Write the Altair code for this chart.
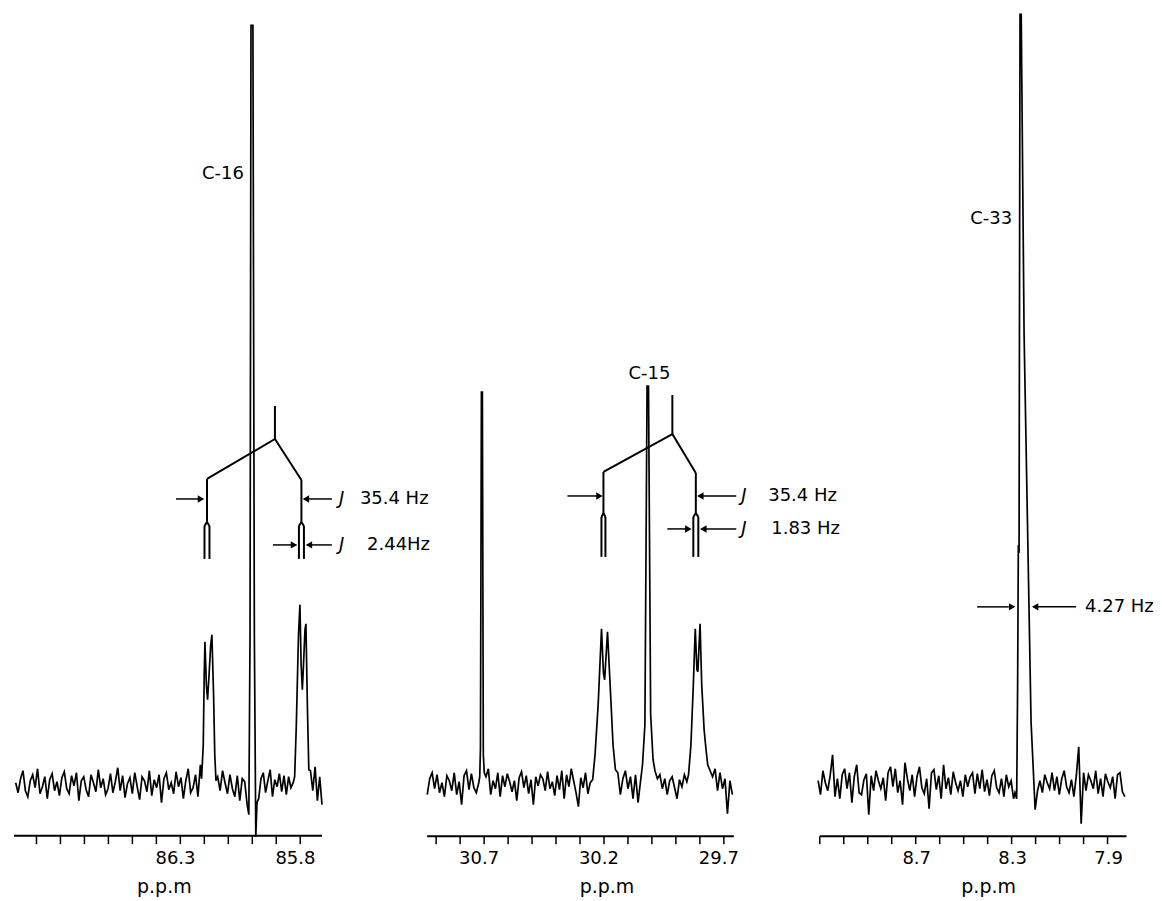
import altair as alt
import pandas as pd

FONT = "DejaVu Sans"

# ---------------- Panel 1 : C-16 (86.99 - 85.71 ppm) ----------------
p1_noise_a_range = (86.985, 86.215)
p1_noise_a = [2, -8, 6, 14, -6, -12, 4, 10, -3, 16, -9, -2, 8, -14, 5, 11, -6, 3, -11, 7,
              13, -4, -9, 9, -1, 12, -16, 4, 8, -5, -12, 10, 2, -7, 15, -3, 6, -10, -4, 11,
              -8, 3, 17, -6, 9, -13, 1, 7, -9, 12, -2, -15, 8, 4, -7, 14, -11, 5, -3, 10,
              -18, 6, 12, -5, 2, -9, 13, -2, 7, -14, 4, 16, -8, -3, 10, -12, 20]
p1_dbl_left_ppm = [86.210, 86.203, 86.199, 86.196, 86.190, 86.185, 86.180, 86.172, 86.167, 86.160, 86.155, 86.150]
p1_dbl_left_int = [6, 40, 110, 143, 100, 85, 105, 140, 150, 90, 30, 4]
p1_noise_b_range = (86.143, 86.020)
p1_noise_b = [8, -6, 14, 2, -9, 10, -4, -12, 9, -16, 6, 3, -20]
p1_c16_ppm = [86.013, 86.008, 86.004, 85.996, 85.990, 85.984, 85.979]
p1_c16_int = [-30, 150, 760, 760, 150, -52, -18]
p1_noise_c_range = (85.972, 85.828)
p1_noise_c = [-14, 6, 12, -8, 4, 15, -12, 5, -2, 11, -7, 9, -10, 8, -3, 2]
p1_dbl_right_ppm = [85.822, 85.815, 85.806, 85.800, 85.795, 85.790, 85.786, 85.779, 85.775, 85.769, 85.763]
p1_dbl_right_int = [8, 60, 150, 180, 120, 95, 115, 155, 161, 80, 15]
p1_noise_d_range = (85.756, 85.708)
p1_noise_d = [14, -6, 18, -16, 8, -20]

# ---------------- Panel 2 : C-15 (30.94 - 29.66 ppm) ----------------
p2_noise_a_range = (30.935, 30.720)
p2_noise_a = [-10, 6, 12, -4, 10, -8, 2, -12, 9, 4, -6, 12, -10, 3, -20, 9, 14, -5, 11, -3, -8, 2]
p2_single_ppm = [30.716, 30.713, 30.709, 30.705, 30.701, 30.697]
p2_single_int = [8, 36, 393, 393, 30, 12]
p2_noise_b_range = (30.690, 30.255)
p2_noise_b = [8, 16, -10, 4, -4, 12, -12, 9, -2, 11, 3, -7, 4, -16, 7, 13, -3, 9, -9, 5,
              -20, 8, -1, 10, 6, -6, 13, -4, 3, -11, 9, -5, 14, -14, 10, -2, 16, 4, -8, -22,
              7, -3, 12, -9, 2]
p2_dbl_left_ppm = [30.245, 30.235, 30.222, 30.208, 30.200, 30.195, 30.183, 30.170, 30.160, 30.150]
p2_dbl_left_int = [5, 30, 80, 156, 112, 105, 153, 90, 40, 15]
p2_noise_c_range = (30.140, 30.045)
p2_noise_c = [12, -10, 6, 14, -4, 8, -14, 10, -18, 4]
p2_c15_ppm = [30.037, 30.027, 30.018, 30.012, 30.003, 29.993]
p2_c15_int = [20, 60, 399, 399, 70, 25]
p2_noise_d_range = (29.985, 29.852)
p2_noise_d = [14, 6, 10, -4, 6, -10, 4, 8, -3, -14, 5, -2, 10, 3]
p2_dbl_right_ppm = [29.845, 29.835, 29.825, 29.817, 29.810, 29.806, 29.797, 29.790, 29.780, 29.772, 29.765]
p2_dbl_right_int = [10, 40, 100, 156, 115, 113, 161, 100, 55, 35, 20]
p2_noise_e_range = (29.755, 29.662)
p2_noise_e = [14, 8, 16, -6, 12, -4, 6, -29, 4, -10]

# ---------------- Panel 3 : C-33 (9.11 - 7.82 ppm) ----------------
p3_noise_a_range = (9.105, 8.290)
p3_noise_a = [4, -10, 14, 2, -6, 9, 30, -12, 6, -14, 10, 16, -4, 12, -18, 8, 20, -8, -10, 5,
              11, -30, 9, -6, 14, 4, -4, 7, -16, 12, 18, -2, 16, -8, 4, -20, 22, 6, -6, 10,
              -12, 8, 18, -3, -9, 6, -24, 12, 15, -5, 9, -14, 20, -4, 7, -10, 13, 2, -6, 4,
              -12, 10, -2, 8, 12, -9, 11, -4, 15, -7, 5, -11, 9, 14, -3, -8, 6, -12, 10, -2,
              4, -14]
p3_c33_ppm = [8.284, 8.277, 8.273, 8.270, 8.267, 8.263, 8.258, 8.246, 8.217, 8.200, 8.190]
p3_c33_int = [-8, -14, 100, 240, 232, 771, 771, 450, 63, -25, -6]
p3_noise_b_range = (8.180, 7.826)
p3_noise_b = [4, -8, 10, 2, -4, 12, -6, 8, -10, 6, 14, -2, -8, 5, -12, 9, 38, -39, 12, -6,
              10, 4, -4, 14, -9, 6, -12, 11, 3, -3, 8, -14, 10, 12, -7, -12]

# axis ticks / labels
p1_ticks = [86.9, 86.8, 86.7, 86.6, 86.5, 86.4, 86.3, 86.2, 86.1, 86.0, 85.9, 85.8]
p1_labels = ["86.3", "85.8"]
p2_ticks = [30.9, 30.8, 30.7, 30.6, 30.5, 30.4, 30.3, 30.2, 30.1, 30.0, 29.9, 29.8, 29.7]
p2_labels = ["30.7", "30.2", "29.7"]
p3_ticks = [9.1, 9.0, 8.9, 8.8, 8.7, 8.6, 8.5, 8.4, 8.3, 8.2, 8.1, 8.0, 7.9]
p3_labels = ["8.7", "8.3", "7.9"]

# annotation geometry (ppm, intensity)
p1_tree = [  # x1, y1, x2, y2
    (85.9042, 379, 85.9042, 346), (85.9042, 346, 86.1875, 306), (85.9042, 346, 85.7938, 305),
    (86.1875, 306, 86.1875, 263), (86.1875, 263, 86.1979, 259), (86.1979, 259, 86.1979, 226),
    (86.1875, 263, 86.1771, 259), (86.1771, 259, 86.1771, 226),
    (85.7938, 305, 85.7938, 263), (85.7938, 263, 85.8042, 259), (85.8042, 259, 85.8042, 226),
    (85.7938, 263, 85.7833, 259), (85.7833, 259, 85.7833, 226),
]
p1_shafts = [(86.3167, 286, 86.205, 286), (85.6667, 286, 85.78, 286),
             (85.9125, 240, 85.815, 240), (85.6667, 240, 85.77, 240)]
p1_heads = [(86.2125, 286, "triangle-right"), (85.775, 286, "triangle-left"),
            (85.825, 240, "triangle-right"), (85.7625, 240, "triangle-left")]
p1_text_left = [(85.6375, 286, "J", "italic"), (85.55, 286, "35.4 Hz", "normal"),
                (85.6375, 240, "J", "italic"), (85.52, 240, "2.44Hz", "normal")]
p1_text_right = [(86.0333, 611, "C-16")]
p1_axis_line = [(86.992, -51, 85.708, -51)]

p2_tree = [
    (29.9125, 390, 29.9125, 351), (29.9125, 351, 30.2, 313), (29.9125, 351, 29.8146, 312),
    (30.2, 313, 30.2, 272), (30.2, 272, 30.2083, 268), (30.2083, 268, 30.2083, 228),
    (30.2, 272, 30.1917, 268), (30.1917, 268, 30.1917, 228),
    (29.8146, 312, 29.8146, 272), (29.8146, 272, 29.825, 268), (29.825, 268, 29.825, 228),
    (29.8146, 272, 29.8042, 268), (29.8042, 268, 29.8042, 228),
]
p2_shafts = [(30.35, 289, 30.225, 289), (29.6458, 289, 29.79, 289),
             (29.9333, 256, 29.84, 256), (29.6458, 256, 29.79, 256)]
p2_heads = [(30.2167, 289, "triangle-right"), (29.7958, 289, "triangle-left"),
            (29.8458, 256, "triangle-right"), (29.7833, 256, "triangle-left")]
p2_text_left = [(29.625, 289, "J", "italic"), (29.5125, 289, "35.4 Hz", "normal"),
                (29.625, 256, "J", "italic"), (29.5, 256, "1.83 Hz", "normal")]
p2_text_center = [(30.0083, 411, "C-15")]

p3_shafts = [(8.4417, 178, 8.31, 178), (8.0292, 178, 8.19, 178)]
p3_heads = [(8.2958, 178, "triangle-right"), (8.2, 178, "triangle-left")]
p3_text_left = [(7.9917, 178, "4.27 Hz", "normal")]
p3_text_right = [(8.2958, 566, "C-33")]

Y_DOMAIN = [-51, 773]
HEIGHT = 824


def trace_df(pieces):
    xs, ys = [], []
    for p in pieces:
        if p[0] == "noise":
            (a, b), vals = p[1], p[2]
            n = len(vals)
            for k, v in enumerate(vals):
                xs.append(a + (b - a) * k / (n - 1))
                ys.append(v)
        else:
            xs += list(p[1])
            ys += list(p[2])
    return pd.DataFrame({"ppm": xs, "inten": ys, "i": list(range(len(xs)))})


def seg_df(rows):
    return pd.DataFrame(rows, columns=["x1", "y1", "x2", "y2"])


def panel(trace, dom, ticks, labels, width, title_x, label_dx, tree=None, shafts=None,
          heads=None, text_left=None, text_right=None, text_center=None, axis_rule=None,
          show_domain=True):
    xs = alt.Scale(domain=dom, reverse=True, nice=False, zero=False)
    ys = alt.Scale(domain=Y_DOMAIN, nice=False, zero=False)
    lab_js = "[" + ",".join("'%s'" % l for l in labels) + "]"
    axis = alt.Axis(values=ticks, domain=show_domain,
                    labelExpr="indexof(%s, format(datum.value, '.1f')) >= 0 ? format(datum.value, '.1f') : ''" % lab_js,
                    title="p.p.m", titleX=title_x, titleY=57, titleBaseline="alphabetic",
                    titleAlign="center", labelOffset=label_dx, labelFlush=False, labelOverlap=False)
    X = lambda f: alt.X(f, type="quantitative", scale=xs, axis=axis)
    Y = lambda f: alt.Y(f, type="quantitative", scale=ys, axis=None)

    layers = [alt.Chart(trace).mark_line(color="black", strokeWidth=1.7).encode(
        x=X("ppm"), y=Y("inten"), order=alt.Order("i:Q"))]
    if axis_rule:
        layers.append(alt.Chart(seg_df(axis_rule)).mark_rule(color="black", strokeWidth=2).encode(
            x=X("x1"), x2="x2", y=Y("y1"), y2="y2"))
    if tree:
        layers.append(alt.Chart(seg_df(tree)).mark_rule(color="black", strokeWidth=2).encode(
            x=X("x1"), x2="x2", y=Y("y1"), y2="y2"))
    if shafts:
        layers.append(alt.Chart(seg_df(shafts)).mark_rule(color="black", strokeWidth=1.5).encode(
            x=X("x1"), x2="x2", y=Y("y1"), y2="y2"))
    if heads:
        hd = pd.DataFrame(heads, columns=["x", "y", "shape"])
        layers.append(alt.Chart(hd).mark_point(filled=True, color="black", size=55, opacity=1).encode(
            x=X("x"), y=Y("y"), shape=alt.Shape("shape:N", scale=None)))
    for rows, align in ((text_left, "left"), (text_right, "right"), (text_center, "center")):
        if rows:
            td = pd.DataFrame([r if len(r) == 4 else (r[0], r[1], r[2], "normal") for r in rows],
                              columns=["x", "y", "t", "style"])
            for style in td["style"].unique():
                sub = td[td["style"] == style]
                layers.append(alt.Chart(sub).mark_text(
                    align=align, baseline="middle", font=FONT, fontSize=18, color="black",
                    fontStyle=style).encode(x=X("x"), y=Y("y"), text="t:N"))
    return alt.layer(*layers).properties(width=width, height=HEIGHT)


t1 = trace_df([("noise", p1_noise_a_range, p1_noise_a), ("peak", p1_dbl_left_ppm, p1_dbl_left_int),
               ("noise", p1_noise_b_range, p1_noise_b), ("peak", p1_c16_ppm, p1_c16_int),
               ("noise", p1_noise_c_range, p1_noise_c), ("peak", p1_dbl_right_ppm, p1_dbl_right_int),
               ("noise", p1_noise_d_range, p1_noise_d)])
t2 = trace_df([("noise", p2_noise_a_range, p2_noise_a), ("peak", p2_single_ppm, p2_single_int),
               ("noise", p2_noise_b_range, p2_noise_b), ("peak", p2_dbl_left_ppm, p2_dbl_left_int),
               ("noise", p2_noise_c_range, p2_noise_c), ("peak", p2_c15_ppm, p2_c15_int),
               ("noise", p2_noise_d_range, p2_noise_d), ("peak", p2_dbl_right_ppm, p2_dbl_right_int),
               ("noise", p2_noise_e_range, p2_noise_e)])
t3 = trace_df([("noise", p3_noise_a_range, p3_noise_a), ("peak", p3_c33_ppm, p3_c33_int),
               ("noise", p3_noise_b_range, p3_noise_b)])

# panel 1 is wider than its axis (axis line drawn as a rule) to reproduce the wider gap
P1 = panel(t1, [85.63, 86.992], p1_ticks, p1_labels, 327, 150, -5, tree=p1_tree, shafts=p1_shafts,
           heads=p1_heads, text_left=p1_text_left, text_right=p1_text_right,
           axis_rule=p1_axis_line, show_domain=False)
P2 = panel(t2, [29.658, 30.9375], p2_ticks, p2_labels, 307, 180, -5, tree=p2_tree, shafts=p2_shafts,
           heads=p2_heads, text_left=p2_text_left, text_center=p2_text_center)
P3 = panel(t3, [7.821, 9.1], p3_ticks, p3_labels, 307, 169, 1, shafts=p3_shafts, heads=p3_heads,
           text_left=p3_text_left, text_right=p3_text_right)

chart = alt.hconcat(P1, P2, P3, spacing=86, bounds="flush").properties(
    padding={"left": 4, "top": 2, "right": 0, "bottom": 0}, background="white"
).configure_view(stroke=None).configure_axis(
    domainColor="black", domainWidth=2, tickColor="black", tickWidth=1.5, tickSize=8,
    labelFont=FONT, labelFontSize=18, labelColor="black", labelPadding=6,
    titleFont=FONT, titleFontSize=19, titleFontWeight="normal", titleColor="black", grid=False
)

chart.save("out.html", embed_options={"renderer": "svg", "actions": False})
